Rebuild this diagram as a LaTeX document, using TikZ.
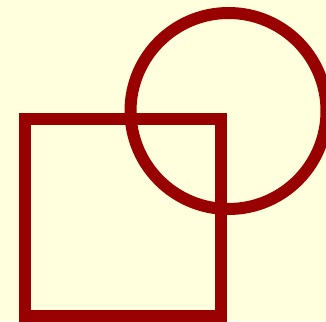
\documentclass[tikz,border=0pt]{standalone}
\definecolor{bg}{HTML}{FFFFDD}
\definecolor{dred}{HTML}{990000}
\begin{document}
\begin{tikzpicture}[x=1pt,y=-1pt,shapeline/.style={draw=dred,line width=12pt}]
\useasboundingbox (0,0) rectangle (326,321);
\fill[bg] (0,0) rectangle (326,321);
\clip (0,0) rectangle (326,321);
\draw[shapeline] (25,119) rectangle (221,316);
\draw[shapeline] (228.5,111) circle[radius=98];
\end{tikzpicture}
\end{document}
